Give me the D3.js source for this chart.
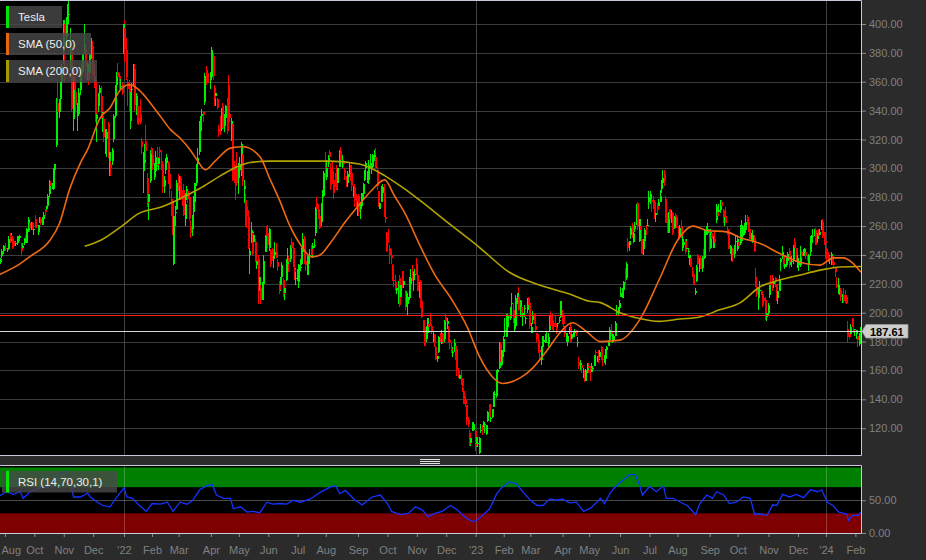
<!DOCTYPE html>
<html><head><meta charset="utf-8">
<script src="https://cdn.jsdelivr.net/npm/d3@7"></script>
<style>
html,body{margin:0;padding:0;background:#2b2b2b;overflow:hidden;}
svg{display:block;}
text{font-family:"Liberation Sans",Arial,Helvetica,sans-serif;}
</style></head><body>
<svg id="chart" width="926" height="560"></svg>
<script>
// ---------------- DATA ----------------
const firstDay = "2021-08-25";
const lastDay = "2024-02-07";
const holidays = ["2021-09-06","2021-11-25","2021-12-24","2022-01-17","2022-02-21","2022-04-15","2022-05-30","2022-06-20","2022-07-04","2022-09-05","2022-11-24","2022-12-26","2023-01-02","2023-01-16","2023-02-20","2023-04-07","2023-05-29","2023-06-19","2023-07-04","2023-09-04","2023-11-23","2023-12-25","2024-01-01","2024-01-15"];

// Tesla daily candles [open, high, low, close]
const candles = [
// Aug 2021
[236,238,233,237],[237,238,233,234],[235,238,234,237],[239,244,238,243],[244,247,241,245],
// Sep 2021
[245,246,243,245],[245,248,243,244],[244,245,242,244],[244,253,244,251],[254,255,248,251],[251,255,250,251],[252,253,244,245],[249,250,246,248],[248,250,246,248],[248,253,247,252],[251,253,250,252],[252,254,250,253],[245,248,239,243],[245,248,243,246],[248,252,247,251],[252,254,250,251],[248,259,248,258],[257,266,256,264],[262,265,256,259],[260,263,257,260],[262,263,257,258],
// Oct 2021
[258,260,254,258],[263,268,259,261],[261,265,259,260],[256,261,254,261],[264,266,262,264],[265,266,261,262],[261,266,261,264],[265,270,264,268],[271,272,267,270],[272,274,270,273],[274,282,273,281],[282,292,280,290],[290,291,285,288],[288,290,286,288],[286,300,285,298],[299,303,297,303],[316,349,315,342],[345,361,336,339],[339,348,335,346],[348,360,344,359],[360,372,357,371],
// Nov 2021
[381,403,372,403],[400,403,360,391],[392,405,384,404],[407,414,398,410],[407,416,400,407],[384,397,368,387],[385,387,340,341],[334,363,326,356],[363,368,352,354],[353,354,339,344],[338,345,326,338],[338,356,336,352],[354,367,351,363],[366,372,357,365],[367,380,364,379],[384,400,380,386],[383,385,362,370],[367,374,361,372],[367,369,358,361],[366,380,363,379],[380,390,376,382],
// Dec 2021
[385,388,363,365],[364,372,356,361],[362,364,332,338],[334,342,318,337],[343,352,339,350],[352,358,346,356],[350,357,334,335],[339,341,325,339],[334,336,318,322],[315,327,310,320],[320,327,308,325],[331,332,307,309],[305,314,295,311],[303,307,295,300],[305,314,302,313],[320,338,318,336],[336,358,335,356],[358,367,356,364],[367,373,362,363],[364,366,355,362],[357,362,354,357],[358,360,351,352],
// Jan 2022
[383,400,379,400],[397,403,374,383],[382,390,361,363],[360,362,343,355],[357,361,339,342],[333,353,327,353],[354,359,346,355],[363,372,357,369],[369,372,340,344],[340,352,337,350],[343,349,331,332],[335,342,330,332],[338,348,331,332],[319,321,310,315],[302,311,283,310],[304,317,298,306],[319,330,304,312],[293,297,273,276],[277,285,264,282],[291,313,290,312],
// Feb 2022
[314,315,301,310],[309,310,299,302],[294,304,292,297],[298,312,294,308],[308,315,301,302],[303,308,299,307],[313,315,307,311],[302,313,299,301],[303,305,283,287],[288,295,283,292],[299,307,296,307],[304,310,300,308],[304,305,289,292],[296,296,280,286],[278,284,267,274],[277,279,254,255],[234,267,233,267],[270,274,260,270],[272,292,271,290],
// Mar 2022
[290,296,284,288],[290,295,279,293],[293,295,278,280],[283,285,274,280],[285,289,267,268],[265,283,260,275],[279,288,278,286],[284,285,276,279],[280,283,264,265],[260,264,252,255],[258,268,253,267],[270,281,267,280],[277,290,275,290],[290,303,288,302],[303,314,300,307],[311,333,309,331],[326,336,323,333],[336,341,329,338],[339,340,332,337],[346,366,344,364],[368,371,358,367],[365,368,359,364],[360,366,359,359],
// Apr 2022
[361,367,355,362],[363,384,362,382],[378,380,361,364],[356,358,343,348],[350,356,343,352],[348,349,341,342],[327,330,322,325],[334,336,323,329],[327,342,326,341],[343,345,327,328],[329,338,325,335],[335,344,330,343],[345,349,324,326],[358,365,335,336],[338,345,332,335],[324,335,319,333],[331,333,291,292],[300,305,290,294],[299,302,278,292],[300,311,288,290],
// May 2022
[293,304,282,301],[299,308,296,303],[301,318,295,317],[310,312,288,291],[286,292,276,288],[278,282,260,263],[274,276,259,267],[266,271,244,245],[240,254,227,243],[250,263,248,257],[255,257,240,241],[249,256,246,254],[249,251,235,236],[233,243,230,236],[237,240,206,221],[219,227,215,225],[217,219,206,209],[209,221,209,219],[220,240,219,236],[242,254,242,253],[257,260,245,253],
// Jun 2022
[255,261,245,247],[245,259,243,258],[243,244,232,234],[244,245,236,238],[237,240,231,239],[240,249,239,242],[242,248,238,238],[235,237,229,232],[221,222,213,216],[219,225,215,221],[225,235,219,233],[223,224,211,213],[214,219,209,217],[223,237,222,237],[234,245,233,236],[238,239,228,235],[237,247,235,246],[249,252,242,245],[245,249,232,232],[230,232,223,228],[224,231,219,224],
// Jul 2022
[227,230,222,227],[221,234,217,233],[232,237,229,232],[234,245,233,244],[242,255,241,251],[252,253,234,235],[236,240,229,233],[226,239,226,237],[234,239,229,238],[240,244,236,240],[244,247,238,240],[245,248,238,246],[247,251,245,247],[255,273,253,272],[276,280,266,272],[272,275,265,268],[267,268,258,259],[263,276,260,275],[280,285,273,281],[281,298,280,297],
// Aug 2022
[301,311,294,297],[294,306,292,300],[305,309,301,307],[311,313,303,308],[300,304,285,288],[298,305,289,290],[292,292,279,283],[297,297,287,295],[299,302,285,286],[290,300,285,300],[301,313,301,309],[312,315,303,306],[303,309,300,304],[304,306,301,303],[299,300,292,297],[292,295,287,290],[290,298,287,296],[296,304,294,297],[302,302,291,296],[297,302,284,288],[282,288,280,284],[287,289,273,278],[281,282,272,275],
// Sep 2022
[272,278,267,277],[281,282,267,270],[273,276,265,275],[274,283,272,283],[282,290,279,289],[292,299,291,299],[300,305,298,304],[292,298,290,292],[292,306,289,302],[302,310,300,303],[300,304,296,303],[301,310,300,309],[307,313,305,309],[308,314,300,300],[299,301,285,288],[284,284,273,276],[272,284,272,276],[283,288,277,283],[283,289,277,287],[283,289,266,268],[266,275,262,265],
// Oct 2022
[255,256,242,243],[250,258,248,249],[245,247,234,240],[240,244,234,238],[233,234,222,223],[223,227,218,222],[221,226,215,217],[216,220,213,217],[208,222,206,221],[224,226,204,205],[211,222,210,219],[229,229,217,221],[219,226,217,222],[209,216,202,207],[207,215,204,214],[206,213,198,211],[210,225,209,222],[220,230,218,224],[229,233,222,225],[225,228,215,228],[226,230,223,227],
// Nov 2022
[234,238,226,228],[226,228,215,215],[211,221,210,215],[222,223,203,207],[208,208,196,197],[194,195,186,191],[190,195,177,177],[189,191,180,190],[186,196,182,196],[192,196,186,190],[195,200,191,194],[191,192,185,187],[183,187,180,183],[185,185,176,180],[176,177,167,168],[168,170,166,170],[173,184,172,183],[185,186,180,182],[179,188,178,182],[185,186,178,180],[182,195,180,195],
// Dec 2022
[197,199,191,194],[192,196,189,194],[189,191,180,182],[181,183,175,179],[175,179,172,174],[173,176,169,173],[174,182,173,179],[177,178,167,167],[175,176,156,160],[160,162,155,157],[154,160,154,157],[155,160,150,150],[154,155,145,149],[146,148,137,137],[140,142,135,137],[136,136,122,125],[126,128,121,123],[117,119,108,109],[110,117,108,113],[120,124,118,122],[119,124,118,123],
// Jan 2023
[118,119,104,108],[109,114,107,114],[110,111,107,110],[103,114,102,113],[118,123,117,119],[121,122,115,119],[123,125,119,123],[122,124,117,123],[116,122,115,122],[125,132,124,131],[137,137,128,128],[127,129,124,127],[128,133,127,133],[135,145,135,143],[143,146,139,144],[142,160,141,160],[159,161,154,160],[162,180,161,178],[178,180,165,166],[164,174,163,174],
// Feb 2023
[173,184,169,182],[187,196,183,188],[183,199,183,190],[193,199,189,195],[197,198,190,197],[196,204,195,201],[207,214,201,207],[202,206,193,196],[194,197,187,195],[191,212,189,210],[211,214,206,214],[211,218,201,202],[200,209,197,208],[204,209,197,198],[198,201,191,200],[203,205,197,203],[196,197,192,196],[202,210,200,207],[210,211,203,205],
// Mar 2023
[207,207,189,191],[186,193,186,190],[195,201,192,198],[199,200,192,193],[191,194,187,188],[186,186,180,182],[181,185,172,172],[174,178,168,173],[167,177,164,175],[177,184,175,184],[180,182,176,181],[181,185,179,184],[180,187,180,180],[178,186,176,183],[188,198,187,198],[198,201,191,191],[195,199,188,192],[193,193,187,190],[193,198,190,191],[190,192,185,189],[193,193,189,193],[194,197,193,195],[197,208,196,208],
// Apr 2023
[200,202,192,194],[198,198,190,192],[190,191,183,185],[183,186,180,186],[180,185,177,184],[186,190,185,186],[190,192,180,180],[182,186,180,185],[185,187,183,185],[186,189,183,187],[188,188,184,185],[180,183,176,180],[166,169,161,163],[164,167,160,165],[164,165,158,162],[160,162,155,160],[160,160,152,153],[153,161,153,160],[160,165,158,164],
// May 2023
[163,165,158,162],[162,163,153,160],[160,165,159,161],[162,163,159,162],[163,171,163,171],[173,174,169,172],[168,170,166,169],[173,174,165,168],[169,174,167,173],[176,177,167,168],[168,169,163,167],[166,171,165,166],[168,175,164,173],[174,177,172,176],[177,181,177,180],[181,190,180,188],[187,192,184,185],[181,185,179,183],[181,185,180,184],[184,194,184,193],[200,205,198,201],[200,204,198,204],
// Jun 2023
[203,209,202,207],[211,218,211,214],[213,217,210,217],[216,222,210,221],[228,231,220,224],[224,235,223,234],[249,252,242,245],[247,250,243,250],[254,260,251,259],[261,262,252,256],[249,259,248,255],[258,263,256,260],[261,275,261,274],[276,277,257,260],[250,265,249,265],[260,262,252,257],[251,259,241,241],[244,251,240,250],[250,259,248,257],[259,261,254,258],[260,265,260,261],
// Jul 2023
[277,284,272,280],[279,284,275,282],[278,279,270,277],[278,281,272,274],[277,277,265,269],[268,270,263,269],[276,276,268,271],[274,279,271,277],[277,285,277,281],[287,292,283,290],[290,299,286,293],[296,299,288,291],[279,281,262,262],[268,269,255,260],[255,270,255,269],[272,272,265,265],[263,271,262,264],[269,270,254,255],[259,267,258,266],[268,269,263,267],
// Aug 2023
[266,267,259,261],[255,260,252,254],[253,261,252,259],[260,264,252,253],[251,253,243,251],[247,251,245,249],[250,251,241,242],[245,251,243,245],[242,245,238,243],[238,240,233,240],[238,240,232,232],[229,232,225,225],[227,228,219,219],[214,217,212,215],[222,233,221,232],[240,241,229,234],[232,238,228,236],[238,239,230,230],[231,239,228,238],[242,244,235,238],[238,258,237,257],[254,260,254,256],[255,262,254,258],
// Sep 2023
[257,258,242,246],[245,258,244,256],[255,256,248,251],[245,253,245,251],[251,257,247,248],[264,275,262,273],[270,274,266,267],[270,275,267,271],[271,278,269,276],[277,278,272,274],[271,272,262,266],[265,268,260,266],[267,273,262,262],[258,260,254,255],[257,257,244,244],[244,247,241,246],[243,245,236,244],[244,245,235,240],[241,247,238,246],[250,254,245,250],
// Oct 2023
[244,254,243,251],[249,250,244,246],[248,261,247,261],[260,264,257,260],[253,261,250,260],[255,262,254,259],[257,268,256,263],[266,268,261,262],[263,265,256,258],[258,259,250,251],[250,255,250,254],[250,257,248,254],[252,254,242,243],[225,231,218,220],[218,219,211,212],[210,217,202,216],[216,222,213,216],[215,216,212,212],[211,214,204,205],[210,213,205,208],[209,211,195,197],[197,202,194,200],
// Nov 2023
[200,207,198,205],[212,219,210,219],[221,226,218,220],[223,226,215,219],[220,224,217,222],[224,225,218,222],[220,220,208,210],[210,216,206,215],[215,226,215,223],[235,238,229,237],[239,246,237,242],[240,241,232,233],[232,238,230,234],[234,238,232,236],[236,242,233,241],[243,245,231,234],[233,238,233,235],[236,239,232,236],[236,247,234,246],[249,252,242,245],[245,245,236,240],
// Dec 2023
[234,240,231,238],[233,236,229,236],[233,246,232,238],[242,243,238,239],[242,244,239,242],[241,245,239,244],[242,243,237,239],[239,240,236,237],[234,241,229,240],[242,253,239,251],[251,254,249,253],[253,258,248,253],[253,258,253,257],[257,259,247,247],[251,255,248,254],[256,258,251,253],[254,258,254,256],[259,264,257,261],[263,265,252,253],[256,256,247,248],
// Jan 2024
[250,252,237,248],[244,245,236,238],[239,242,235,237],[237,240,234,237],[237,242,233,241],[239,240,233,234],[235,236,231,233],[231,232,225,228],[220,225,217,218],[215,224,213,219],[214,216,212,215],[216,217,208,211],[209,213,207,212],[212,217,207,208],[212,216,207,209],[211,212,206,207],[189,194,180,183],[185,186,182,183],[185,192,183,190],[196,196,190,192],[188,193,186,187],
// Feb 2024
[188,189,184,189],[185,188,182,188],[184,184,176,181],[178,186,177,185],[183,190,182,187.61]
];

// SMA (50): trading-day index / value
const sma50Day = [0,16,23,37,44,51,59,64,73,80,87,94,101,109,116,123,130,137,142,148,155,166,175,187,194,201,208,216,224,230,237,248,258,267,276,283,291,301,312,324,335,344,353,360,373,382,392,401,410,420,430,444,458,472,485,496,506,520,530,544,558,572,587,596,603,616];
const sma50Val = [226,234,239,250,262,285,304,313,335,342,354,358,354,345,336,327,321,313,306,299,305,314,315,308,293,278,261,247,238.6,240,248,263,275,285,292,281,268,247,226,209,190,169,155.5,151,155,162,174,186,193,187,180,181,195,223,250,260,257,256,252,248,241,235,233,238,238,228];
// SMA (200)
const sma200Day = [62,73,87,101,116,130,144,159,173,180,194,216,237,258,276,287,301,323,344,365,387,408,422,430,444,458,472,487,501,515,530,544,558,572,587,601,616];
const sma200Val = [246,250,259,269,273,279,286,295,302,304,305,305,305,303,295,288,278,261,245,228,219,213,208,207,200,196,194,195.6,197,202,207,218,222.6,226,229.5,231.7,232];
// RSI (14)
const rsiDay = [0,6,11,16,18,23,30,37,44,49,51,54,59,64,66,71,75,80,85,90,92,96,101,106,110,116,121,125,130,135,139,144,149,153,156,161,166,168,173,178,182,187,192,196,201,206,211,216,223,230,237,241,244,248,255,260,267,273,278,281,287,293,298,303,307,312,317,323,328,333,338,341,346,351,356,360,365,370,375,380,385,389,394,399,403,408,413,418,423,428,430,433,437,440,444,448,451,455,458,460,465,470,475,477,482,487,492,498,501,506,510,513,518,522,527,532,537,540,544,549,553,556,560,565,570,575,580,585,588,592,596,600,606,607,610,614,616];
const rsiVal = [55,63,59,63,53,63,69,71,92,94,85,55,55,61,55,47,42,40,55,69,55,53,42,33,45,44,47,33,47,44,50,66,72,74,58,53,53,37,40,32,33,31,47,44,45,44,50,47,52,62,70,72,60,65,50,43,55,58,45,33,28,30,40,35,25,30,33,42,35,25,18,18,27,37,60,70,78,75,62,50,42,42,52,50,52,46,47,33,38,48,53,45,61,69,77,84,89,89,73,58,71,63,72,53,53,47,42,28,45,58,53,63,58,45,47,55,53,29,29,27,43,42,59,55,59,54,66,63,66,47,42,32,29,19,27,27,32];

const priceTicks = [120,140,160,180,200,220,240,260,280,300,320,340,360,380,400];
const rsiTicks = [0,50];
const rsiBands = [[70,100,"#008000"],[0,30,"#7f0000"]];
const monthLabels = ["Aug","Oct","Nov","Dec","'22","Feb","Mar","Apr","May","Jun","Jul","Aug","Sep","Oct","Nov","Dec","'23","Feb","Mar","Apr","May","Jun","Jul","Aug","Sep","Oct","Nov","Dec","'24","Feb"];
const legendItems = [["Tesla","#00e600"],["SMA (50,0)","#e8650f"],["SMA (200,0)","#a59a00"]];
const rsiLegend = ["RSI (14,70,30,1)","#00e600"];
const lastPrice = 187.61;
const markerLevel = 198.3;

// ---------------- BUILD DATES ----------------
const hol = new Set(holidays);
const dates = [];
{
  const [y0,m0,d0] = firstDay.split("-").map(Number);
  const [y1,m1,d1] = lastDay.split("-").map(Number);
  let t = Date.UTC(y0,m0-1,d0), end = Date.UTC(y1,m1-1,d1);
  while (t <= end) {
    const d = new Date(t), wd = d.getUTCDay(), iso = d.toISOString().slice(0,10);
    if (wd !== 0 && wd !== 6 && !hol.has(iso)) dates.push(d);
    t += 86400000;
  }
}
const N = Math.min(dates.length, candles.length);

// ---------------- LAYOUT ----------------
const svg = d3.select("#chart");
const plotR = 861, mainTop = 0, mainBot = 455.5, rsiTop = 465, rsiBot = 533.5;
const x = d3.scaleLinear().domain([0, 616]).range([-2.1, 861]);
const y = d3.scaleLinear().domain([120, 400]).range([428.2, 24]);
const yr = d3.scaleLinear().domain([0, 100]).range([533, 467.5]);

svg.append("rect").attr("width",926).attr("height",560).attr("fill","#2b2b2b");
const defs = svg.append("defs");
defs.append("clipPath").attr("id","clipMain").append("rect").attr("x",0).attr("y",mainTop).attr("width",plotR).attr("height",mainBot-mainTop);
defs.append("clipPath").attr("id","clipRsi").append("rect").attr("x",0).attr("y",rsiTop).attr("width",plotR).attr("height",rsiBot-rsiTop);

// panels
svg.append("rect").attr("x",0).attr("y",mainTop).attr("width",plotR).attr("height",mainBot-mainTop).attr("fill","#000");
svg.append("rect").attr("x",0).attr("y",rsiTop).attr("width",plotR).attr("height",rsiBot-rsiTop).attr("fill","#000");

const monthIdx = [], yearIdx = [];
for (let i = 1; i < dates.length; i++) {
  if (dates[i].getUTCMonth() !== dates[i-1].getUTCMonth()) monthIdx.push(i);
  if (dates[i].getUTCFullYear() !== dates[i-1].getUTCFullYear()) yearIdx.push(i);
}

// main grid
const gMain = svg.append("g").attr("clip-path","url(#clipMain)");
gMain.selectAll("line.h").data(priceTicks).join("line")
  .attr("x1",0).attr("x2",plotR).attr("y1",d=>Math.round(y(d))+0.5).attr("y2",d=>Math.round(y(d))+0.5)
  .attr("stroke","#3c3c3c").attr("stroke-width",1);
gMain.selectAll("line.v").data(yearIdx).join("line")
  .attr("x1",d=>Math.round(x(d))+0.5).attr("x2",d=>Math.round(x(d))+0.5).attr("y1",mainTop).attr("y2",mainBot)
  .attr("stroke","#404040").attr("stroke-width",1);

// candles
const cData = d3.range(N).map(i => ({i, o:candles[i][0], h:candles[i][1], l:candles[i][2], c:candles[i][3]}));
const gC = gMain.append("g").attr("shape-rendering","crispEdges");
gC.selectAll("rect.w").data(cData).join("rect")
  .attr("x",d=>Math.round(x(d.i))-1).attr("width",1)
  .attr("y",d=>y(d.h)).attr("height",d=>Math.max(1,y(d.l)-y(d.h)))
  .attr("fill",d=>d.c>=d.o?"#00ee00":"#ff0000");
gC.selectAll("rect.b").data(cData).join("rect")
  .attr("x",d=>Math.round(x(d.i))-1).attr("width",2)
  .attr("y",d=>y(Math.max(d.o,d.c))).attr("height",d=>Math.max(1,Math.abs(y(d.o)-y(d.c))))
  .attr("fill",d=>d.c>=d.o?"#00ee00":"#ff0000");

// SMA lines
const lineGen = d3.line().x(d=>x(d[0])).y(d=>y(d[1])).curve(d3.curveMonotoneX);
const s200 = sma200Day.map((d,k)=>[d,sma200Val[k]]);
const s50 = sma50Day.map((d,k)=>[d,sma50Val[k]]);
gMain.append("path").datum(s200).attr("d",lineGen).attr("fill","none").attr("stroke","#b3a300").attr("stroke-width",1.6);
gMain.append("path").datum(s50).attr("d",lineGen).attr("fill","none").attr("stroke","#ee6a12").attr("stroke-width",1.6);

// reference lines
gMain.append("line").attr("x1",0).attr("x2",plotR).attr("y1",Math.round(y(markerLevel))+0.5).attr("y2",Math.round(y(markerLevel))+0.5).attr("stroke","#ff1a1a").attr("stroke-width",1);
gMain.append("line").attr("x1",0).attr("x2",plotR).attr("y1",Math.round(y(lastPrice))+0.5).attr("y2",Math.round(y(lastPrice))+0.5).attr("stroke","#d8d8d8").attr("stroke-width",1);

// legends
const gLeg = svg.append("g");
const legW = [56,85,91];
legendItems.forEach((it,k)=>{
  const top = [6,33,60][k];
  gLeg.append("rect").attr("x",6).attr("y",top).attr("width",legW[k]).attr("height",22).attr("fill","rgba(72,72,72,0.82)");
  gLeg.append("rect").attr("x",6).attr("y",top).attr("width",3).attr("height",22).attr("fill",it[1]);
  gLeg.append("text").attr("x",18).attr("y",top+15).attr("fill","#eeeeee").attr("font-size",11.5).text(it[0]);
});

// main border
svg.append("path").attr("d",`M0,0.5H${plotR+0.5}V${mainBot}H0`).attr("fill","none").attr("stroke","#c9c9dd").attr("stroke-width",1);

// right price axis
const axP = d3.axisRight(y).tickValues(priceTicks).tickFormat(d3.format(".2f")).tickSize(4).tickPadding(3);
const gAx = svg.append("g").attr("transform",`translate(${plotR+1},0)`).call(axP);
gAx.select(".domain").remove();
gAx.selectAll("line").attr("stroke","#8a8a8a");
gAx.selectAll("text").attr("fill","#808080").attr("font-size",11).attr("font-family","Liberation Sans, Arial, sans-serif");

// price tag
const ty = Math.round(y(lastPrice));
svg.append("path").attr("d",`M${plotR+1},${ty+0.5} L${plotR+5},${ty-6.5} H908 V${ty+7} H${plotR+5} Z`).attr("fill","#cdcdcd").attr("stroke","#9a9a9a").attr("stroke-width",0.8);
svg.append("text").attr("x",870).attr("y",ty+4.5).attr("fill","#000").attr("font-size",11).attr("font-weight","bold").text(d3.format(".2f")(lastPrice));

// separator handle
[459.5,461.5,463.5].forEach(v=>svg.append("line").attr("x1",420).attr("x2",440).attr("y1",v).attr("y2",v).attr("stroke","#e0e0e0").attr("stroke-width",1));

// RSI panel
const gR = svg.append("g").attr("clip-path","url(#clipRsi)");
rsiBands.forEach(b=>{
  gR.append("rect").attr("x",0).attr("width",plotR).attr("y",yr(b[1])).attr("height",yr(b[0])-yr(b[1])+ (b[0]===0?2:0)).attr("fill",b[2]);
});
gR.append("line").attr("x1",0).attr("x2",plotR).attr("y1",Math.round(yr(50))+0.5).attr("y2",Math.round(yr(50))+0.5).attr("stroke","#4a4a4a");
gR.selectAll("line.v").data(yearIdx).join("line")
  .attr("x1",d=>Math.round(x(d))+0.5).attr("x2",d=>Math.round(x(d))+0.5).attr("y1",rsiTop).attr("y2",rsiBot)
  .attr("stroke","rgba(255,255,255,0.22)");
const rsiPts = rsiDay.map((d,k)=>[d,rsiVal[k]]);
gR.append("path").datum(rsiPts).attr("d",d3.line().x(d=>x(d[0])).y(d=>yr(d[1]))).attr("fill","none").attr("stroke","#1433ff").attr("stroke-width",1.3);

// RSI legend
svg.append("rect").attr("x",2).attr("y",471).attr("width",115).attr("height",21.5).attr("fill","rgba(72,72,72,0.82)");
svg.append("rect").attr("x",6).attr("y",471).attr("width",3).attr("height",21.5).attr("fill",rsiLegend[1]);
svg.append("text").attr("x",18).attr("y",486).attr("fill","#eeeeee").attr("font-size",11.5).text(rsiLegend[0]);

// RSI border
svg.append("path").attr("d",`M0,${rsiTop+0.5}H${plotR+0.5}V${rsiBot}H0`).attr("fill","none").attr("stroke","#c9c9dd").attr("stroke-width",1);

// RSI axis
const axR = d3.axisRight(yr).tickValues(rsiTicks).tickFormat(d3.format(".2f")).tickSize(4).tickPadding(3);
const gAr = svg.append("g").attr("transform",`translate(${plotR+1},0)`).call(axR);
gAr.select(".domain").remove();
gAr.selectAll("line").attr("stroke","#8a8a8a");
gAr.selectAll("text").attr("fill","#808080").attr("font-size",11).attr("font-family","Liberation Sans, Arial, sans-serif");

// bottom time axis
const axB = d3.axisBottom(x).tickValues(monthIdx).tickFormat((d,k)=>monthLabels[k]).tickSize(3).tickPadding(9);
const gAb = svg.append("g").attr("transform",`translate(0,${rsiBot+0.5})`).call(axB);
gAb.select(".domain").remove();
gAb.selectAll("line").attr("stroke","#8a8a8a");
gAb.selectAll("text").attr("fill","#808080").attr("font-size",11).attr("font-family","Liberation Sans, Arial, sans-serif");
// keep the first (edge) label fully inside the picture
gAb.selectAll(".tick").filter((d,k)=>k===0).select("text")
  .attr("text-anchor","start").attr("x", -x(monthIdx[0]) + 1);
</script>
</body></html>
